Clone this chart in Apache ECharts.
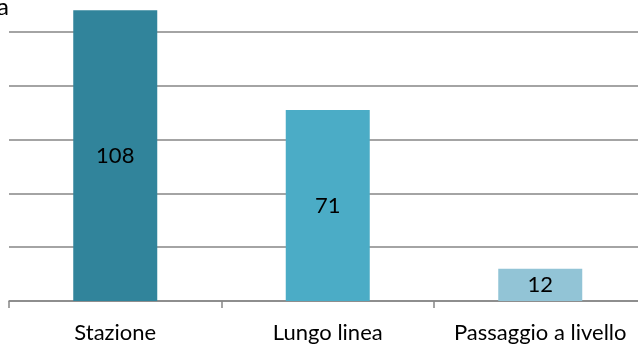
<!DOCTYPE html>
<html>
<head>
<meta charset="utf-8">
<script src="https://cdn.jsdelivr.net/npm/echarts@6/dist/echarts.min.js"></script>
<style>
  html, body { margin: 0; padding: 0; background: #fff; overflow: hidden; width: 638px; height: 344px; }
  #wrap { position: relative; width: 638px; height: 344px; overflow: hidden; }
  /* plot area is taller and wider than the window; the top and right run off the edge */
  #chart { position: absolute; left: 0; top: -22px; width: 647px; height: 366px; }
</style>
</head>
<body>
<div id="wrap"><div id="chart"></div></div>
<script>
// Incidents by location
const categories = ['Stazione', 'Lungo linea', 'Passaggio a livello'];
const values = [108, 71, 12];
const barColors = ['#31849b', '#4bacc6', '#92c4d6'];
const yMax = 120;
const yStep = 20;

const FONT = 'Lato, "Open Sans", sans-serif';
const chart = echarts.init(document.getElementById('chart'), null, { renderer: 'canvas' });

chart.setOption({
  animation: false,
  backgroundColor: '#ffffff',
  textStyle: { fontFamily: FONT },
  title: {
    text: 'Frequenza',
    right: 638,
    top: 17,
    padding: 0,
    textStyle: { fontSize: 24, fontWeight: 'normal', color: '#000', fontFamily: FONT }
  },
  grid: { left: 9, right: 0.5, top: 0, bottom: 41, containLabel: false },
  xAxis: {
    type: 'category',
    data: categories,
    axisLine: { lineStyle: { color: '#868686', width: 1.5 } },
    axisTick: { show: true, length: 7, lineStyle: { color: '#868686', width: 1.5 } },
    axisLabel: { color: '#000', fontSize: 22, margin: 21, interval: 0, fontFamily: FONT }
  },
  yAxis: {
    type: 'value',
    min: 0,
    max: yMax,
    interval: yStep,
    axisLabel: { show: false },
    axisLine: { show: false },
    axisTick: { show: false },
    splitLine: { lineStyle: { color: '#868686', width: 1.5 } }
  },
  series: [{
    type: 'bar',
    data: values.map((v, i) => ({ value: v, itemStyle: { color: barColors[i] } })),
    barWidth: 84,
    label: {
      show: true,
      position: 'inside',
      color: '#000',
      fontSize: 22,
      fontFamily: FONT
    }
  }]
});
</script>
</body>
</html>
